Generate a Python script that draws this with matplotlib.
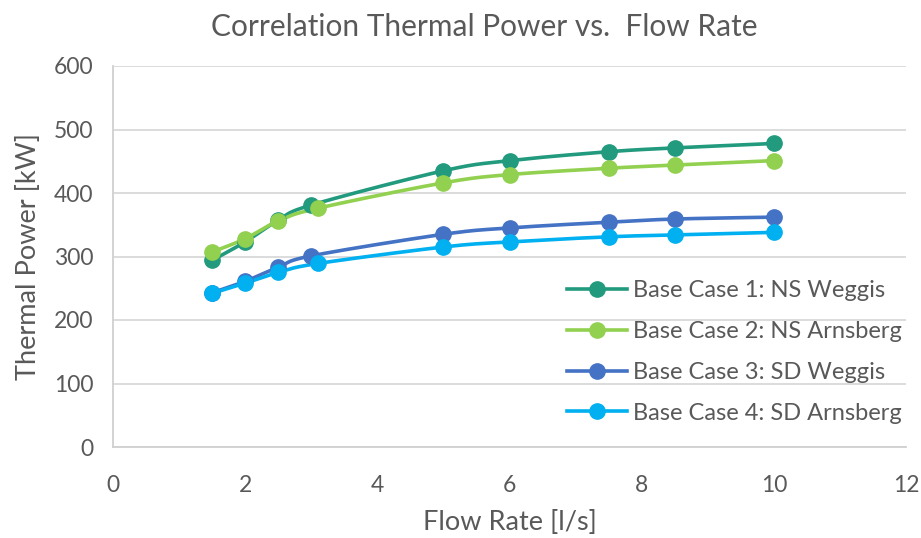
import numpy as np
import matplotlib
matplotlib.use("Agg")
import matplotlib.pyplot as plt

title = "Correlation Thermal Power vs.  Flow Rate"
xlabel = "Flow Rate [l/s]"
ylabel = "Thermal Power [kW]"

labels = ["Base Case 1: NS Weggis", "Base Case 2: NS Arnsberg",
          "Base Case 3: SD Weggis", "Base Case 4: SD Arnsberg"]
colors = ["#229A7E", "#92D050", "#4472C4", "#00B0F0"]

x_ns_weggis = [1.5, 2, 2.5, 3.0, 5, 6, 7.5, 8.5, 10]
y_ns_weggis = [294, 323, 357, 381, 435, 451, 465, 471, 478]

x_ns_arnsberg = [1.5, 2, 2.5, 3.1, 5, 6, 7.5, 8.5, 10]
y_ns_arnsberg = [307, 328, 356, 376, 416, 429, 439, 444, 451]

x_sd_weggis = [1.5, 2, 2.5, 3.0, 5, 6, 7.5, 8.5, 10]
y_sd_weggis = [243, 261, 283, 301, 335, 345, 354, 359, 362]

x_sd_arnsberg = [1.5, 2, 2.5, 3.1, 5, 6, 7.5, 8.5, 10]
y_sd_arnsberg = [242, 258, 275, 289, 315, 323, 331, 334, 338]

series = [(x_ns_weggis, y_ns_weggis), (x_ns_arnsberg, y_ns_arnsberg),
          (x_sd_weggis, y_sd_weggis), (x_sd_arnsberg, y_sd_arnsberg)]

xticks = [0, 2, 4, 6, 8, 10, 12]
yticks = [0, 100, 200, 300, 400, 500, 600]


def smooth(x, y, n=30):
    x = np.asarray(x, float); y = np.asarray(y, float)
    P = np.column_stack([x, y])
    out = []
    for i in range(len(P) - 1):
        p0 = P[i - 1] if i > 0 else P[i]
        p1 = P[i]; p2 = P[i + 1]
        p3 = P[i + 2] if i + 2 < len(P) else P[i + 1]
        c1 = p1 + (p2 - p0) / 6.0
        c2 = p2 - (p3 - p1) / 6.0
        t = np.linspace(0, 1, n)[:, None]
        seg = ((1 - t) ** 3) * p1 + 3 * ((1 - t) ** 2) * t * c1 + 3 * (1 - t) * t ** 2 * c2 + t ** 3 * p2
        out.append(seg if i == 0 else seg[1:])
    S = np.vstack(out)
    return S[:, 0], S[:, 1]


plt.rcParams['font.family'] = ['Lato', 'DejaVu Sans']
txt = "#595959"

fig = plt.figure(figsize=(9.21, 5.38), dpi=100)
ax = fig.add_axes([113 / 921, 1 - 447 / 538, (906 - 113) / 921, (447 - 66) / 538])

for (xs, ys), lab, col in zip(series, labels, colors):
    sx, sy = smooth(xs, ys)
    ax.plot(sx, sy, color=col, lw=2.6, solid_capstyle='round', zorder=3)
    ax.plot(xs, ys, 'o', color=col, ms=11, zorder=4)
    ax.plot([], [], '-o', color=col, lw=2.6, ms=11, label=lab)

ax.set_xlim(0, 12)
ax.set_ylim(0, 600)
ax.set_xticks(xticks)
ax.set_yticks(yticks)
ax.grid(axis='y', color='#D9D9D9', lw=1.3, zorder=0)
ax.set_axisbelow(True)
for s in ['right', 'top']:
    ax.spines[s].set_visible(False)
for s in ['left', 'bottom']:
    ax.spines[s].set_color('#D0D0D0')
    ax.spines[s].set_linewidth(1.3)
ax.tick_params(length=0, labelsize=16.5, colors=txt)
ax.tick_params(axis='y', pad=14)
ax.tick_params(axis='x', pad=20)
ax.set_xlabel(xlabel, fontsize=19.5, color=txt, labelpad=10)
ax.set_ylabel(ylabel, fontsize=19.5, color=txt, labelpad=9)
fig.text(484 / 921, 1 - 27 / 538, title, fontsize=21.5, color=txt, ha='center', va='center')

leg = ax.legend(loc='center left', bbox_to_anchor=((567 - 113) / 793, (447 - 352) / 381),
                frameon=False, fontsize=17, labelspacing=0.84, handlelength=2.55,
                handletextpad=0.25, borderaxespad=0, borderpad=0)
for t in leg.get_texts():
    t.set_color(txt)

fig.savefig("out.png", dpi=100)
